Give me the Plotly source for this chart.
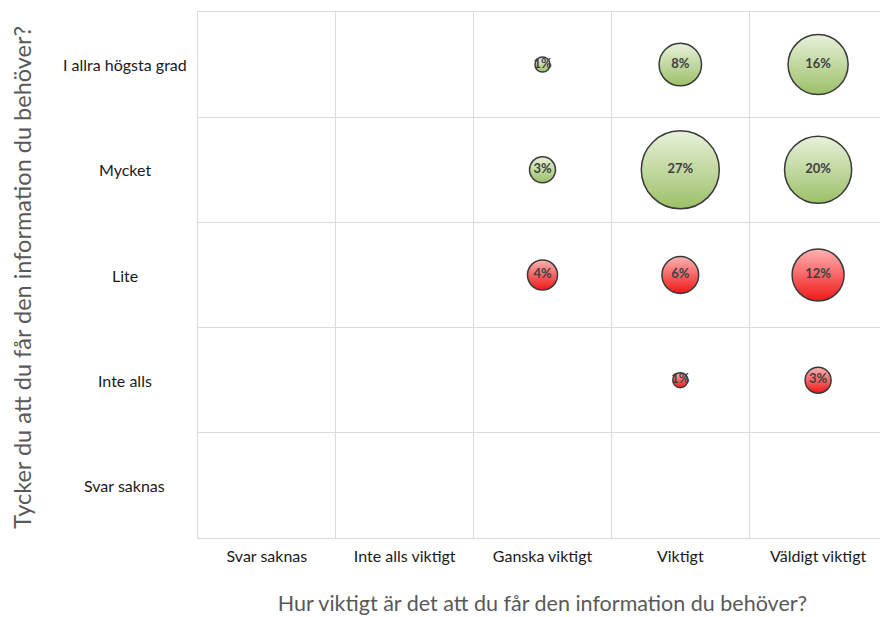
import plotly.graph_objects as go

x_labels = ["Svar saknas", "Inte alls viktigt", "Ganska viktigt", "Viktigt", "Väldigt viktigt"]
y_labels = ["Svar saknas", "Inte alls", "Lite", "Mycket", "I allra högsta grad"]

# positive answers (green)
green_x = ["Ganska viktigt", "Viktigt", "Väldigt viktigt", "Ganska viktigt", "Viktigt", "Väldigt viktigt"]
green_y = ["I allra högsta grad", "I allra högsta grad", "I allra högsta grad", "Mycket", "Mycket", "Mycket"]
green_pct = [1, 8, 16, 3, 27, 20]

# negative answers (red)
red_x = ["Ganska viktigt", "Viktigt", "Väldigt viktigt", "Viktigt", "Väldigt viktigt"]
red_y = ["Lite", "Lite", "Lite", "Inte alls", "Inte alls"]
red_pct = [4, 6, 12, 1, 3]

FONT = "Lato, Calibri, sans-serif"
max_px = 78
sizeref = 2.0 * max(green_pct + red_pct) / max_px ** 2


def idx(labels, vals):
    return [labels.index(v) for v in vals]


fig = go.Figure()
for xs, ys, vals, col, grad in [
    (green_x, green_y, green_pct, "#e8f1da", "#9cc068"),
    (red_x, red_y, red_pct, "#ffb3b3", "#f01818"),
]:
    fig.add_trace(go.Scatter(
        x=idx(x_labels, xs), y=idx(y_labels, ys),
        mode="markers+text",
        text=[f"{v}%" for v in vals],
        textposition="middle center",
        textfont=dict(family=FONT, size=13, color="#404040", weight="bold"),
        marker=dict(size=vals, sizemode="area", sizeref=sizeref,
                    color=col, gradient=dict(type="vertical", color=grad),
                    line=dict(color="#3a3a3a", width=1.5), opacity=1),
        showlegend=False, hoverinfo="skip",
    ))

half = [i - 0.5 for i in range(6)]

fig.update_xaxes(
    range=[-0.5, 4.5], tickvals=list(range(5)), ticktext=x_labels,
    showgrid=False, zeroline=False,
    minor=dict(tickvals=half, showgrid=True, gridcolor="#dcdcdc", gridwidth=1, ticks=""),
    ticks="outside", ticklen=4, tickcolor="rgba(0,0,0,0)",
    tickfont=dict(family=FONT, size=16, color="#1a1a1a"),
    title=dict(text="Hur viktigt är det att du får den information du behöver?",
               font=dict(family=FONT, size=21.5, color="#595959"), standoff=31),
    showline=True, mirror=True, linecolor="#dcdcdc",
)
fig.update_yaxes(
    range=[-0.5, 4.5], tickvals=list(range(5)), showticklabels=False,
    showgrid=False, zeroline=False,
    minor=dict(tickvals=half, showgrid=True, gridcolor="#dcdcdc", gridwidth=1, ticks=""),
    showline=True, mirror=True, linecolor="#dcdcdc",
)

for i, lab in enumerate(y_labels):
    fig.add_annotation(x=-0.106, xref="paper", y=i, yref="y", text=lab,
                       showarrow=False, xanchor="center",
                       font=dict(family=FONT, size=16, color="#1a1a1a"))

fig.add_annotation(x=-0.2554, xref="paper", y=0.495, yref="paper", textangle=-90,
                   text="Tycker du att du får den information du behöver?",
                   showarrow=False, xanchor="center", yanchor="middle",
                   font=dict(family=FONT, size=23.5, color="#595959"))

# page body adds an 8px offset, so the figure is 8px smaller each way
fig.update_layout(
    width=880, height=609,
    margin=dict(l=190, r=1, t=4, b=79),
    plot_bgcolor="white", paper_bgcolor="white",
)

fig.write_html("out.html")
